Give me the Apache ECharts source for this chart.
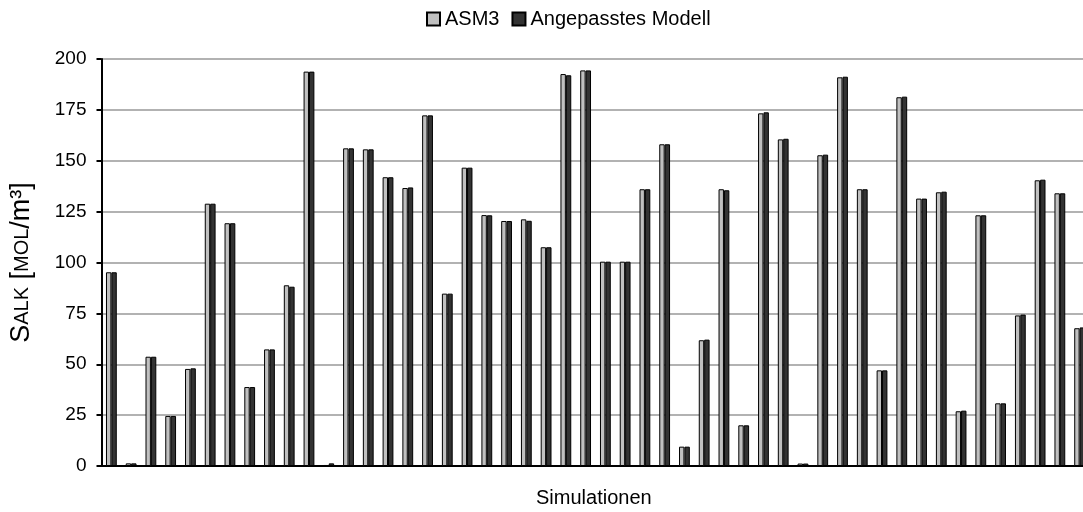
<!DOCTYPE html>
<html>
<head>
<meta charset="utf-8">
<script src="https://cdn.jsdelivr.net/npm/echarts@6/dist/echarts.min.js"></script>
<style>
html,body{margin:0;padding:0;background:#fff;}
#c{width:1083px;height:512px;}
</style>
</head>
<body>
<div id="c"></div>
<script>
var categories = [];
for (var i = 1; i <= 50; i++) categories.push(String(i));

var asm3 = [95.2,1.3,53.7,24.6,47.7,128.9,119.3,38.8,57.3,88.8,
            193.8,0.5,156.1,155.6,141.9,136.6,172.3,84.7,146.6,123.3,
            120.4,121.2,107.5,192.6,194.4,100.4,100.4,136.0,158.1,9.5,
            61.8,136.0,20.0,173.3,160.5,1.2,152.7,191.0,136.0,47.0,
            181.2,131.4,134.5,26.9,123.2,30.8,74.0,140.4,134.0,67.7];

var angepasst = [95.2,1.3,53.7,24.6,48.0,128.9,119.3,38.8,57.3,88.1,
                 193.8,1.3,156.1,155.6,141.9,136.9,172.3,84.7,146.6,123.2,
                 120.4,120.5,107.5,192.0,194.4,100.4,100.4,136.0,158.1,9.5,
                 62.1,135.5,20.0,173.8,160.8,1.2,153.0,191.3,136.0,47.0,
                 181.5,131.4,134.8,27.2,123.2,30.8,74.4,140.7,134.0,68.1];

var seriesNames = ['ASM3', 'Angepasstes Modell'];
var yTicks = { min: 0, max: 200, interval: 25 };

var FONT = 'Liberation Sans, Arial, sans-serif';
var chart = echarts.init(document.getElementById('c'));
chart.setOption({
  animation: false,
  backgroundColor: '#fff',
  textStyle: { fontFamily: FONT },
  legend: {
    top: 4,
    left: 421,
    itemWidth: 13,
    itemHeight: 13,
    itemGap: 12,
    icon: 'rect',
    textStyle: { fontSize: 20, color: '#000', fontFamily: FONT },
    data: seriesNames
  },
  grid: { left: 101.5, top: 59, bottom: 46, width: 988, containLabel: false, outerBoundsMode: 'none' },
  xAxis: {
    type: 'category',
    data: categories,
    axisLine: { show: true, lineStyle: { color: '#000', width: 2 } },
    axisTick: { show: false },
    axisLabel: { show: false },
    splitLine: { show: false }
  },
  yAxis: {
    type: 'value',
    min: yTicks.min,
    max: yTicks.max,
    interval: yTicks.interval,
    name: '{big|S}{sm|ALK}{big| [}{sm|MOL}{big|/m³]}',
    nameLocation: 'middle',
    nameRotate: 90,
    nameGap: 66,
    nameTextStyle: {
      rich: {
        big: { fontSize: 27, color: '#000', fontFamily: FONT },
        sm: { fontSize: 20, color: '#000', fontFamily: FONT }
      }
    },
    axisLine: { show: true, lineStyle: { color: '#000', width: 2 } },
    axisTick: { show: true, length: 5, lineStyle: { color: '#000', width: 2 } },
    axisLabel: { fontSize: 19, color: '#000', margin: 15, fontFamily: FONT },
    splitLine: { show: true, lineStyle: { color: '#999', width: 1.5 } }
  },
  graphic: [{
    type: 'text',
    left: 536,
    top: 488,
    style: { text: 'Simulationen', fontSize: 20, fill: '#000', fontFamily: FONT }
  }],
  series: [
    {
      name: seriesNames[0],
      type: 'bar',
      data: asm3,
      barWidth: 5.4,
      barGap: '0%',
      itemStyle: { color: '#c0c0c0', borderColor: '#000', borderWidth: 1 }
    },
    {
      name: seriesNames[1],
      type: 'bar',
      data: angepasst,
      barWidth: 5.4,
      barGap: '0%',
      itemStyle: { color: '#333333', borderColor: '#000', borderWidth: 1 }
    }
  ]
});
</script>
</body>
</html>
